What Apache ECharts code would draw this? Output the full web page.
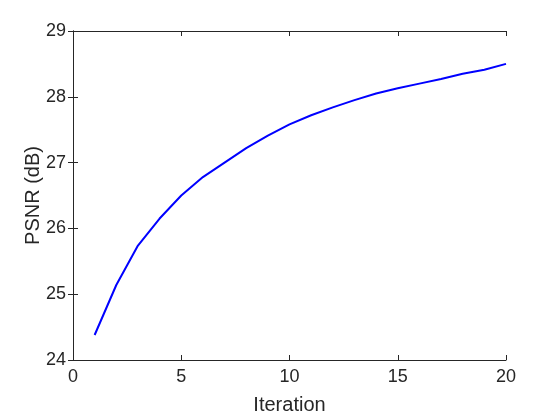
<!DOCTYPE html>
<html>
<head>
<meta charset="utf-8">
<script src="https://cdn.jsdelivr.net/npm/echarts@6/dist/echarts.min.js"></script>
<style>
  html, body { margin: 0; padding: 0; background: #fff; }
  #main { width: 560px; height: 420px; }
</style>
</head>
<body>
<div id="main"></div>
<script>
// PSNR per iteration
const iterations = [1, 2, 3, 4, 5, 6, 7, 8, 9, 10, 11, 12, 13, 14, 15, 16, 17, 18, 19, 20];
const psnrValues = [24.38, 25.14, 25.74, 26.15, 26.50, 26.78, 27.00, 27.22, 27.41, 27.58,
                    27.72, 27.84, 27.95, 28.05, 28.13, 28.20, 28.27, 28.35, 28.41, 28.50];

const axisColor = '#262626';
const font = 'Liberation Sans, Arial, sans-serif';

const chart = echarts.init(document.getElementById('main'));

const boxAxis = {
  axisLine: { show: true, lineStyle: { color: axisColor, width: 1 } },
  axisTick: { show: true, inside: true, length: 5, lineStyle: { color: axisColor } },
  splitLine: { show: false }
};

chart.setOption({
  animation: false,
  grid: { left: 73, right: 54, top: 31, bottom: 58 },
  xAxis: [
    Object.assign({}, boxAxis, {
      type: 'value', min: 0, max: 20, interval: 5,
      name: 'Iteration', nameLocation: 'middle', nameGap: 35,
      nameTextStyle: { fontFamily: font, fontSize: 20, color: axisColor },
      axisLabel: { fontFamily: font, fontSize: 18, color: axisColor, margin: 8 }
    }),
    Object.assign({}, boxAxis, {
      type: 'value', min: 0, max: 20, interval: 5, position: 'top',
      axisLabel: { show: false }
    })
  ],
  yAxis: [
    Object.assign({}, boxAxis, {
      type: 'value', min: 24, max: 29, interval: 1,
      name: 'PSNR (dB)', nameLocation: 'middle', nameGap: 30,
      nameMoveOverlap: false,
      nameTextStyle: { fontFamily: font, fontSize: 20, color: axisColor },
      axisLabel: { fontFamily: font, fontSize: 18, color: axisColor, margin: 7 }
    }),
    Object.assign({}, boxAxis, {
      type: 'value', min: 24, max: 29, interval: 1, position: 'right',
      axisLabel: { show: false }
    })
  ],
  series: [{
    type: 'line',
    data: iterations.map((it, i) => [it, psnrValues[i]]),
    showSymbol: false,
    lineStyle: { color: '#0000ff', width: 2 },
    itemStyle: { color: '#0000ff' }
  }]
});
</script>
</body>
</html>
